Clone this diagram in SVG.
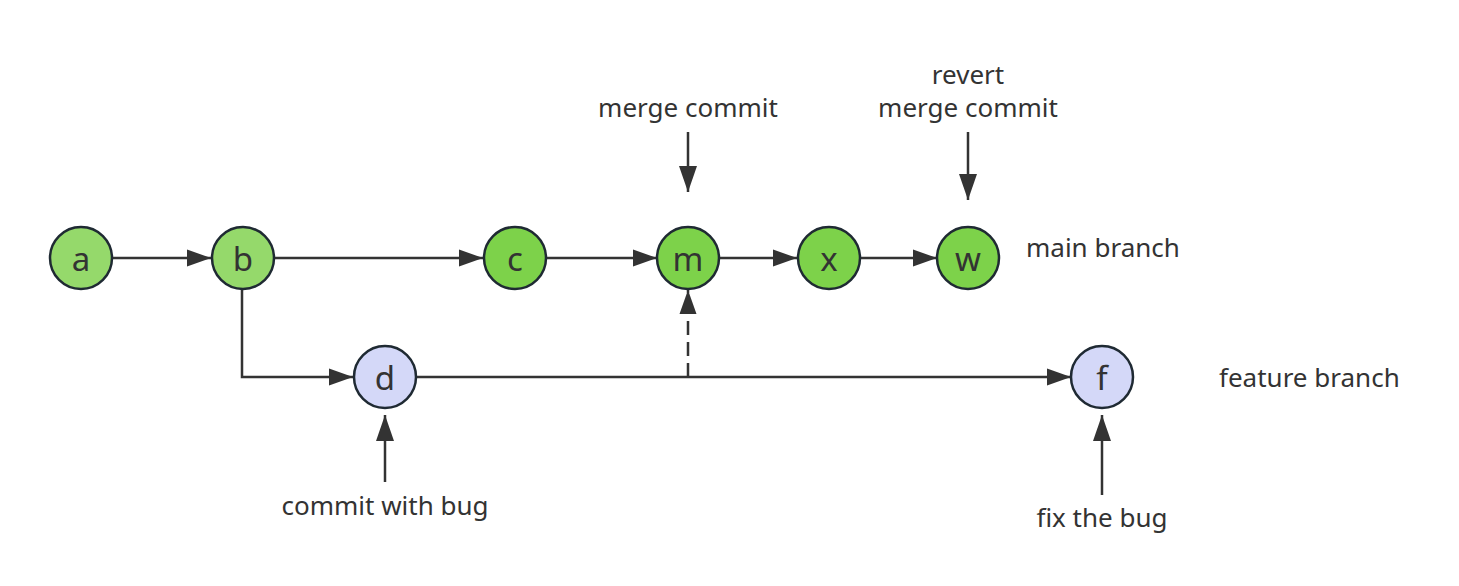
<svg xmlns="http://www.w3.org/2000/svg" width="1459" height="586" viewBox="0 0 1459 586">
<defs>
<marker id="arr" viewBox="0 0 24 18" refX="24" refY="9" markerWidth="24" markerHeight="18" markerUnits="userSpaceOnUse" orient="auto">
<path d="M0,0.5 L24,9 L0,17.5 Z" fill="#333333"/>
</marker>
<marker id="arrL" viewBox="0 0 26 20" refX="26" refY="10" markerWidth="26" markerHeight="20" markerUnits="userSpaceOnUse" orient="auto">
<path d="M0,1 L26,10 L0,19 Z" fill="#333333"/>
</marker>
</defs>
<style>
.node circle { stroke: #1f2a33; stroke-width: 2.5; }
.light { fill: #95d96b; }
.green { fill: #7dd24a; }
.blue { fill: #d4d8f8; }
.node text { font-family: "Noto Sans", "Open Sans", sans-serif; font-size: 33px; fill: #333333; text-anchor: middle; }
.lbl { font-family: "Noto Sans", "Open Sans", sans-serif; font-size: 26px; fill: #333333; }
.edge { stroke: #333333; stroke-width: 2.5; fill: none; }
</style>
<rect width="1459" height="586" fill="#ffffff"/>
<g id="connectors">
<path class="edge" d="M112,258 H211" marker-end="url(#arr)"/>
<path class="edge" d="M274,258 H483" marker-end="url(#arr)"/>
<path class="edge" d="M546,258 H657" marker-end="url(#arr)"/>
<path class="edge" d="M719,258 H797" marker-end="url(#arr)"/>
<path class="edge" d="M860,258 H937" marker-end="url(#arr)"/>
<path class="edge" d="M242,289 V377 H353" marker-end="url(#arr)"/>
<path class="edge" d="M416,377 H1071" marker-end="url(#arr)"/>
<path class="edge" d="M688,377 V290" stroke-dasharray="14 7" marker-end="url(#arr)"/>
<path class="edge" d="M688,132 V192" marker-end="url(#arrL)"/>
<path class="edge" d="M968,132 V200" marker-end="url(#arrL)"/>
<path class="edge" d="M385,482 V415" marker-end="url(#arrL)"/>
<path class="edge" d="M1102,495 V415" marker-end="url(#arrL)"/>
</g>
<g id="node-a" class="node"><circle class="light" cx="81" cy="258" r="31"/><text x="81" y="271">a</text></g>
<g id="node-b" class="node"><circle class="light" cx="243" cy="258" r="31"/><text x="243" y="271">b</text></g>
<g id="node-c" class="node"><circle class="green" cx="515" cy="258" r="31"/><text x="515" y="271">c</text></g>
<g id="node-m" class="node"><circle class="green" cx="688" cy="258" r="31"/><text x="688" y="271">m</text></g>
<g id="node-x" class="node"><circle class="green" cx="829" cy="258" r="31"/><text x="829" y="271">x</text></g>
<g id="node-w" class="node"><circle class="green" cx="968" cy="258" r="31"/><text x="968" y="271">w</text></g>
<g id="node-d" class="node"><circle class="blue" cx="385" cy="377" r="31"/><text x="385" y="390">d</text></g>
<g id="node-f" class="node"><circle class="blue" cx="1102" cy="377" r="31"/><text x="1102" y="390">f</text></g>
<g id="labels">
<text class="lbl" x="688" y="117" text-anchor="middle">merge commit</text>
<text class="lbl" x="968" y="84" text-anchor="middle">revert</text>
<text class="lbl" x="968" y="117" text-anchor="middle">merge commit</text>
<text class="lbl" x="1026" y="257">main branch</text>
<text class="lbl" x="1219" y="387">feature branch</text>
<text class="lbl" x="385" y="515" text-anchor="middle">commit with bug</text>
<text class="lbl" x="1102" y="527" text-anchor="middle">fix the bug</text>
</g>
</svg>
